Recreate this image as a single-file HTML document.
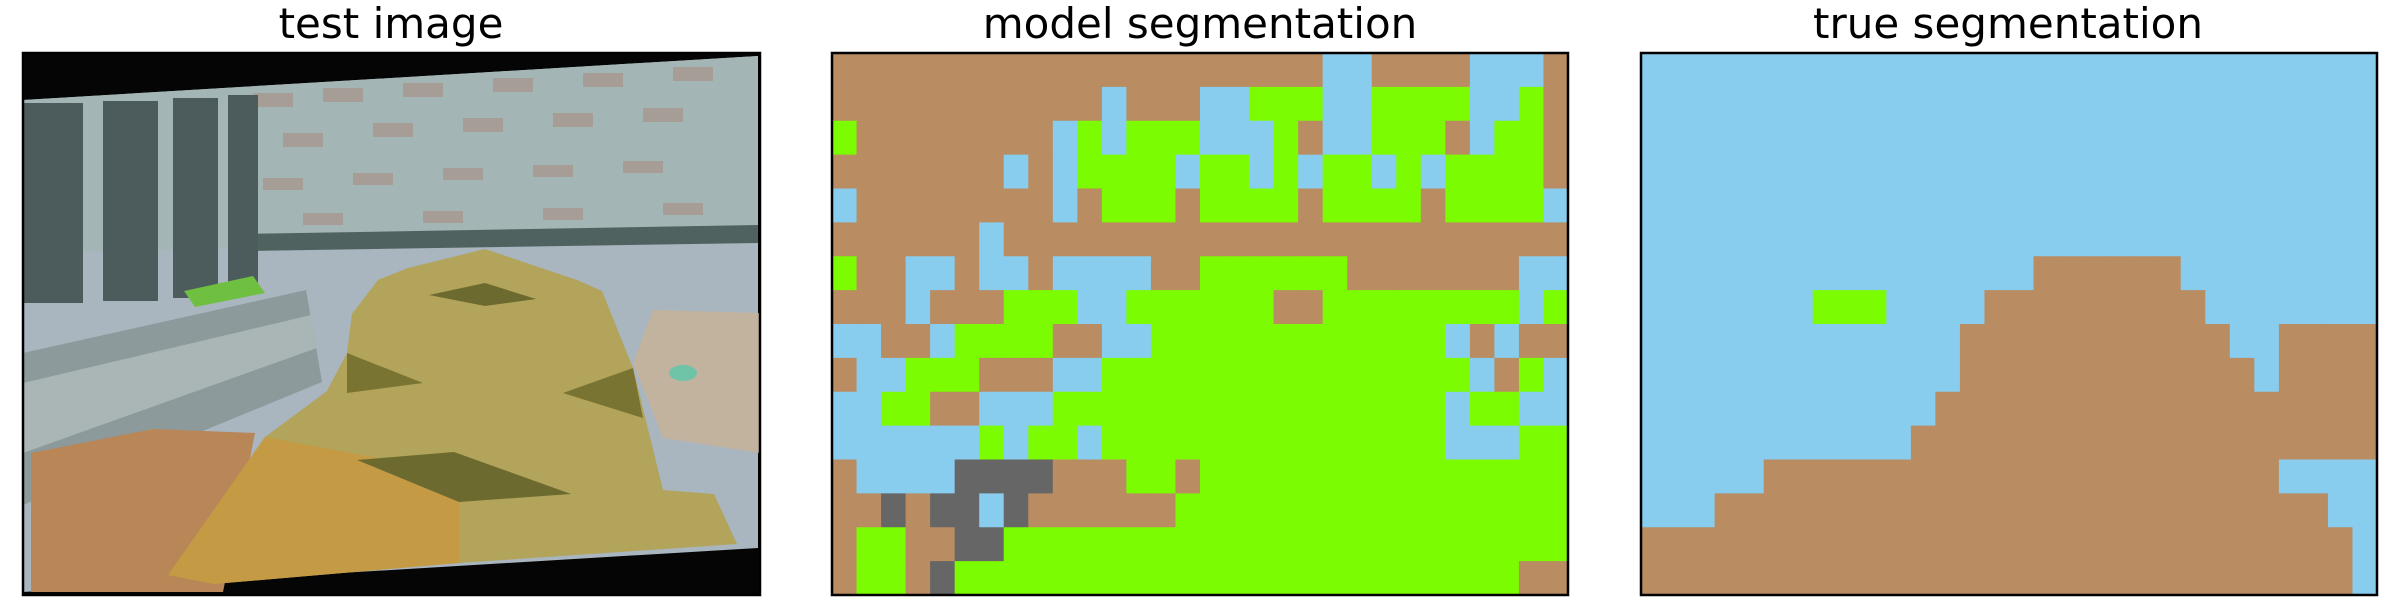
<!DOCTYPE html>
<html><head><meta charset="utf-8">
<style>
html,body{margin:0;padding:0;background:#fff;}
body{width:2400px;height:600px;overflow:hidden;position:relative;font-family:"DejaVu Sans","Liberation Sans",sans-serif;}
</style></head>
<body>
<svg id="fig" width="2400" height="600" xmlns="http://www.w3.org/2000/svg">
  <rect width="2400" height="600" fill="#fff"/>
  <text x="391" y="38" font-size="42" text-anchor="middle" font-family="DejaVu Sans, sans-serif">test image</text>
  <text x="1200" y="38" font-size="42" text-anchor="middle" font-family="DejaVu Sans, sans-serif">model segmentation</text>
  <text x="2008" y="38" font-size="42" text-anchor="middle" font-family="DejaVu Sans, sans-serif">true segmentation</text>

  <g transform="translate(23,53)">
    <rect width="737" height="542" fill="#050505"/>
    <polygon points="0,47 735,3 735,495 0,539" fill="#a9b5bf"/>
    <polygon points="0,47 735,3 735,182 0,200" fill="#a3b5b4"/>
    <g fill="#a8958a" opacity="0.7">
      <rect x="230" y="40" width="40" height="14"/><rect x="300" y="35" width="40" height="14"/><rect x="380" y="30" width="40" height="14"/><rect x="470" y="25" width="40" height="14"/><rect x="560" y="20" width="40" height="14"/><rect x="650" y="14" width="40" height="14"/>
      <rect x="260" y="80" width="40" height="14"/><rect x="350" y="70" width="40" height="14"/><rect x="440" y="65" width="40" height="14"/><rect x="530" y="60" width="40" height="14"/><rect x="620" y="55" width="40" height="14"/>
      <rect x="240" y="125" width="40" height="12"/><rect x="330" y="120" width="40" height="12"/><rect x="420" y="115" width="40" height="12"/><rect x="510" y="112" width="40" height="12"/><rect x="600" y="108" width="40" height="12"/>
      <rect x="280" y="160" width="40" height="12"/><rect x="400" y="158" width="40" height="12"/><rect x="520" y="155" width="40" height="12"/><rect x="640" y="150" width="40" height="12"/>
    </g>
    <polygon points="220,181 735,172 735,190 220,198" fill="#4f6260"/>
    <g fill="#4c5b5c">
      <rect x="0" y="50" width="60" height="200"/>
      <rect x="80" y="48" width="55" height="200"/>
      <rect x="150" y="45" width="45" height="200"/>
      <rect x="205" y="42" width="30" height="190"/>
    </g>
    <polygon points="0,300 283,237 299,329 0,452" fill="#8d9a9b"/>
    <polygon points="0,330 288,262 294,295 0,400" fill="#aab5b5"/>
    <polygon points="161,238 230,223 242,240 172,254" fill="#6fc040"/>
    <polygon points="630,257 737,260 737,400 640,385 610,310" fill="#c2b39f"/>
    <ellipse cx="660" cy="320" rx="14" ry="8" fill="#6fc4a8"/>
    <polygon points="8,400 130,376 232,380 200,539 8,539" fill="#b98657"/>
    <polygon points="462,196 554,227 579,238 610,315 640,437 691,441 714,491 436,510 191,531 145,522 242,384 304,338 324,300 329,261 355,227 385,215" fill="#b2a45a"/>
    <polygon points="145,522 242,384 436,420 436,510 191,531" fill="#c49a45"/>
    <polygon points="406,242 462,230 513,246 462,253" fill="#6d6a30"/>
    <polygon points="334,407 431,399 548,441 436,449" fill="#6d6a30"/>
    <polygon points="324,300 400,330 324,340" fill="#7a7432"/>
    <polygon points="610,315 540,340 620,365" fill="#7a7432"/>
    <rect width="737" height="542" fill="none" stroke="#000" stroke-width="2.5"/>
  </g>

  <g id="model" transform="translate(832,53)"></g>
  <g id="truth" transform="translate(1641,53)"></g>
</svg>
<script>
// class labels per cell: B=brown, L=light blue, G=green, D=dark gray
const modelRows = [
"BBBBBBBBBBBBBBBBBBBBLLBBBBLLLB",
"BBBBBBBBBBBLBBBLLGGGLLGGGGLLGB",
"GBBBBBBBBLGLGGGLLLGBLLGGGBLGGB",
"BBBBBBBLBLGGGGLGGLGLGGLGLGGGGB",
"LBBBBBBBBLBGGGBGGGGBGGGGBGGGGL",
"BBBBBBLBBBBBBBBBBBBBBBBBBBBBBB",
"GBBLLBLLBLLLLBBGGGGGGBBBBBBBLL",
"BBBLBBBGGGLLGGGGGGBBGGGGGGGGLG",
"LLBBLGGGGBBLLGGGGGGGGGGGGLBLBB",
"BLLGGGBBBLLGGGGGGGGGGGGGGGLBGL",
"LLGGBBLLLGGGGGGGGGGGGGGGGLGGLL",
"LLLLLLGLGGLGGGGGGGGGGGGGGLLLGG",
"BLLLLDDDDBBBGGBGGGGGGGGGGGGGGG",
"BBDBDDLDBBBBBBGGGGGGGGGGGGGGGG",
"BGGBBDDGGGGGGGGGGGGGGGGGGGGGGG",
"BGGBDGGGGGGGGGGGGGGGGGGGGGGGBB"
];
const trueRows = [
"LLLLLLLLLLLLLLLLLLLLLLLLLLLLLL",
"LLLLLLLLLLLLLLLLLLLLLLLLLLLLLL",
"LLLLLLLLLLLLLLLLLLLLLLLLLLLLLL",
"LLLLLLLLLLLLLLLLLLLLLLLLLLLLLL",
"LLLLLLLLLLLLLLLLLLLLLLLLLLLLLL",
"LLLLLLLLLLLLLLLLLLLLLLLLLLLLLL",
"LLLLLLLLLLLLLLLLBBBBBBLLLLLLLL",
"LLLLLLLGGGLLLLBBBBBBBBBLLLLLLL",
"LLLLLLLLLLLLLBBBBBBBBBBBLLBBBB",
"LLLLLLLLLLLLLBBBBBBBBBBBBLBBBB",
"LLLLLLLLLLLLBBBBBBBBBBBBBBBBBB",
"LLLLLLLLLLLBBBBBBBBBBBBBBBBBBB",
"LLLLLBBBBBBBBBBBBBBBBBBBBBLLLL",
"LLLBBBBBBBBBBBBBBBBBBBBBBBBBLL",
"BBBBBBBBBBBBBBBBBBBBBBBBBBBBBL",
"BBBBBBBBBBBBBBBBBBBBBBBBBBBBBL"
];
const classCodes = ["B","L","G","D"];
const classNames = ["ground","sky","vegetation","rock"];
const classColors = {B:"#b98c62",L:"#88cdee",G:"#7cfc00",D:"#666666"};
const NS = "http://www.w3.org/2000/svg";
const PW = 736, PH = 542;
function drawGrid(gid, rows, prefix){
  const g = document.getElementById(gid);
  const nr = rows.length, nc = rows[0].length;
  const xs = c => c * PW / nc;
  const ys = r => r * PH / nr;
  for (let r = 0; r < nr; r++){
    for (let c = 0; c < nc; c++){
      const k = rows[r][c];
      const rect = document.createElementNS(NS, "rect");
      const x0 = xs(c), x1 = xs(c+1), y0 = ys(r), y1 = ys(r+1);
      rect.setAttribute("x", x0.toFixed(2));
      rect.setAttribute("y", y0.toFixed(2));
      rect.setAttribute("width", (x1-x0+0.6).toFixed(2));
      rect.setAttribute("height", (y1-y0+0.6).toFixed(2));
      rect.setAttribute("fill", classColors[k]);
      
      
      g.appendChild(rect);
    }
  }
  const border = document.createElementNS(NS, "rect");
  border.setAttribute("width", PW);
  border.setAttribute("height", PH);
  border.setAttribute("fill", "none");
  border.setAttribute("stroke", "#000");
  border.setAttribute("stroke-width", "2.5");
  
  
  g.appendChild(border);
}
drawGrid("model", modelRows, "model-segmentation");
drawGrid("truth", trueRows, "true-segmentation");
</script>
</body></html>
